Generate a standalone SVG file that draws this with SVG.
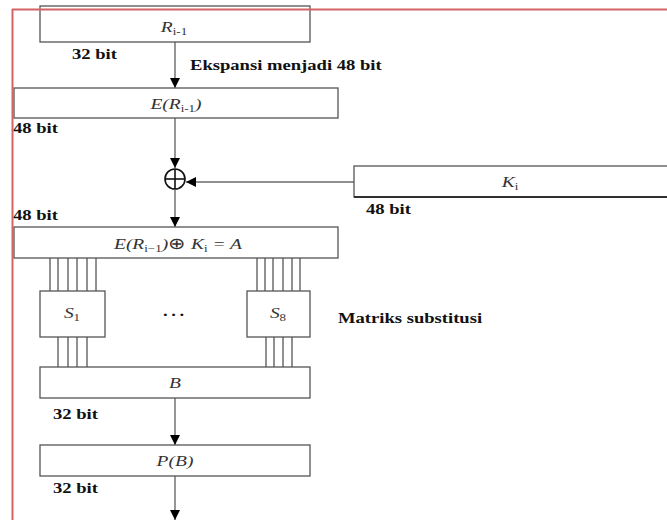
<svg xmlns="http://www.w3.org/2000/svg" width="667" height="520" viewBox="0 0 667 520">
<defs>
<style>
.box{fill:#fff;stroke:#555;stroke-width:1.3}
.con{stroke:#6a6a6a;stroke-width:1.4;fill:none}
.wire{stroke:#222;stroke-width:1}
.sub{font-size:10px;font-style:normal}
</style>
<marker id="ah" viewBox="0 0 10 10" refX="10" refY="5" markerWidth="10" markerHeight="10" markerUnits="userSpaceOnUse" orient="auto">
<path d="M0,0 L10,5 L0,10 Z" fill="#000"/>
</marker>
</defs>
<rect width="667" height="520" fill="#fff"/>

<g id="connectors">
<line class="con" x1="175" y1="42" x2="175" y2="88" marker-end="url(#ah)"/>
<line class="con" x1="175" y1="118" x2="175" y2="168" marker-end="url(#ah)"/>
<line class="con" x1="354" y1="182" x2="186" y2="182" marker-end="url(#ah)"/>
<line class="con" x1="175" y1="190" x2="175" y2="227" marker-end="url(#ah)"/>
<line class="con" x1="175" y1="398" x2="175" y2="445" marker-end="url(#ah)"/>
<line class="con" x1="175" y1="476" x2="175" y2="520" marker-end="url(#ah)"/>
<g id="wires">
<line class="wire" x1="50" y1="258" x2="50" y2="291"/>
<line class="wire" x1="58" y1="258" x2="58" y2="291"/>
<line class="wire" x1="68" y1="258" x2="68" y2="291"/>
<line class="wire" x1="77" y1="258" x2="77" y2="291"/>
<line class="wire" x1="87" y1="258" x2="87" y2="291"/>
<line class="wire" x1="96" y1="258" x2="96" y2="291"/>
<line class="wire" x1="58" y1="337" x2="58" y2="367"/>
<line class="wire" x1="68" y1="337" x2="68" y2="367"/>
<line class="wire" x1="77" y1="337" x2="77" y2="367"/>
<line class="wire" x1="87" y1="337" x2="87" y2="367"/>
<line class="wire" x1="257" y1="258" x2="257" y2="291"/>
<line class="wire" x1="265" y1="258" x2="265" y2="291"/>
<line class="wire" x1="273" y1="258" x2="273" y2="291"/>
<line class="wire" x1="283" y1="258" x2="283" y2="291"/>
<line class="wire" x1="292" y1="258" x2="292" y2="291"/>
<line class="wire" x1="300" y1="258" x2="300" y2="291"/>
<line class="wire" x1="266" y1="337" x2="266" y2="367"/>
<line class="wire" x1="274" y1="337" x2="274" y2="367"/>
<line class="wire" x1="283" y1="337" x2="283" y2="367"/>
<line class="wire" x1="292" y1="337" x2="292" y2="367"/>
</g>
</g>

<g id="nodes" font-family="Liberation Serif, serif" font-style="italic" font-size="15" fill="#333">
<g id="R">
<rect class="box" x="40" y="6" width="270" height="36"/>
<text transform="translate(174,32) scale(1.3,1)" text-anchor="middle">R<tspan class="sub" dy="3">i-1</tspan></text>
</g>
<g id="E">
<rect class="box" x="14" y="88" width="324" height="30"/>
<text transform="translate(176,109) scale(1.3,1)" text-anchor="middle">E(R<tspan class="sub" dy="3">i-1</tspan><tspan dy="-3">)</tspan></text>
</g>
<g id="xor">
<circle cx="175" cy="179" r="10" fill="#fff" stroke="#111" stroke-width="1.6"/>
<line x1="165" y1="179" x2="185" y2="179" stroke="#111" stroke-width="1.6"/>
<line x1="175" y1="169" x2="175" y2="189" stroke="#111" stroke-width="1.6"/>
</g>
<g id="K">
<rect class="box" x="354" y="166" width="330" height="31"/>
<line x1="354" y1="197" x2="667" y2="197" stroke="#111" stroke-width="1.3"/>
<text transform="translate(510,187) scale(1.3,1)" text-anchor="middle">K<tspan class="sub" dy="3">i</tspan></text>
</g>
<g id="A">
<rect class="box" x="14" y="227" width="324" height="31"/>
<text transform="translate(178,249) scale(1.3,1)" text-anchor="middle">E(R<tspan class="sub" dy="3">i−1</tspan><tspan dy="-3">)</tspan><tspan font-style="normal" font-size="16">⊕</tspan><tspan> K</tspan><tspan class="sub" dy="3">i</tspan><tspan dy="-3"> = A</tspan></text>
</g>
<g id="S1">
<rect class="box" x="40" y="291" width="65" height="46"/>
<text transform="translate(72,318) scale(1.3,1)" text-anchor="middle">S<tspan class="sub" dy="3">1</tspan></text>
</g>
<g id="S8">
<rect class="box" x="247" y="291" width="63" height="46"/>
<text transform="translate(278,318) scale(1.3,1)" text-anchor="middle">S<tspan class="sub" dy="3">8</tspan></text>
</g>
<g id="B">
<rect class="box" x="40" y="367" width="270" height="31"/>
<text transform="translate(175,388) scale(1.3,1)" text-anchor="middle">B</text>
</g>
<g id="P">
<rect class="box" x="40" y="445" width="270" height="31"/>
<text transform="translate(175,466) scale(1.3,1)" text-anchor="middle">P(B)</text>
</g>
</g>

<g id="labels" font-family="Liberation Serif, serif" font-weight="bold" font-size="15.5" fill="#111">
<text transform="translate(72,59) scale(1.2,1)">32 bit</text>
<text transform="translate(190,70) scale(1.2,1)">Ekspansi menjadi 48 bit</text>
<text transform="translate(13,133) scale(1.2,1)">48 bit</text>
<text transform="translate(366,214) scale(1.2,1)">48 bit</text>
<text transform="translate(13,220) scale(1.2,1)">48 bit</text>
<text transform="translate(163,316) scale(1.2,1)" letter-spacing="3">...</text>
<text transform="translate(338,323) scale(1.2,1)">Matriks substitusi</text>
<text transform="translate(53,419) scale(1.2,1)">32 bit</text>
<text transform="translate(53,493) scale(1.2,1)">32 bit</text>
</g>

<g id="frame">
<line x1="12" y1="9.5" x2="667" y2="9.5" stroke="#d46464" stroke-width="2.2"/>
<line x1="12.5" y1="9" x2="12.5" y2="520" stroke="#d46464" stroke-width="2"/>
</g>
</svg>
